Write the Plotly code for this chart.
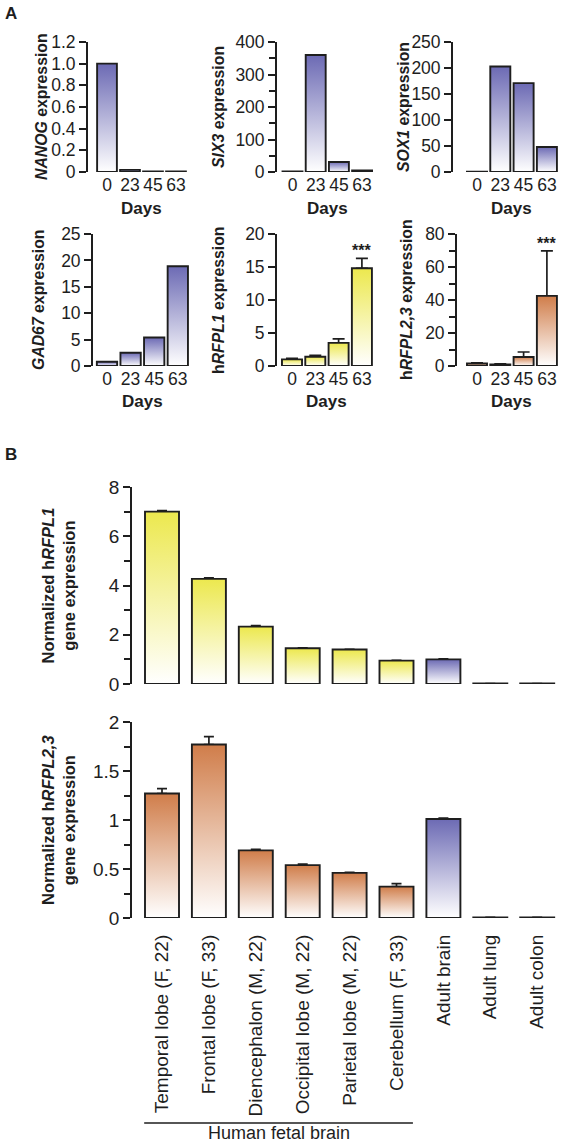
import plotly.graph_objects as go

# ---------------- data ----------------
days = ["0", "23", "45", "63"]

nanog = [1.0, 0.02, 0.005, 0.005]
six3 = [1.5, 360, 31, 5]
sox1 = [0.8, 203, 171, 48]
gad67 = [0.8, 2.5, 5.4, 18.9]
rfpl1_days = [1.0, 1.4, 3.5, 14.8]
rfpl1_days_err = [0.15, 0.2, 0.6, 1.5]
rfpl23_days = [1.5, 1.0, 5.5, 42.5]
rfpl23_days_err = [0.4, 0.3, 3.0, 27.3]

nanog_ticks = [0, 0.2, 0.4, 0.6, 0.8, 1.0, 1.2]
nanog_ticktext = ["0", "0.2", "0.4", "0.6", "0.8", "1.0", "1.2"]
six3_ticks = [0, 100, 200, 300, 400]
six3_minor = [50, 150, 250, 350]
sox1_ticks = [0, 50, 100, 150, 200, 250]
gad67_ticks = [0, 5, 10, 15, 20, 25]
rfpl1_days_ticks = [0, 5, 10, 15, 20]
rfpl23_days_ticks = [0, 20, 40, 60, 80]
rfpl23_days_minor = [10, 30, 50, 70]

tissues = ["Temporal lobe (F, 22)", "Frontal lobe (F, 33)", "Diencephalon (M, 22)",
           "Occipital lobe (M, 22)", "Parietal lobe (M, 22)", "Cerebellum (F, 33)",
           "Adult brain", "Adult lung", "Adult colon"]
rfpl1_tissue = [7.0, 4.27, 2.33, 1.45, 1.4, 0.95, 1.0, 0.02, 0.02]
rfpl1_tissue_err = [0.04, 0.04, 0.04, 0.02, 0.01, 0.01, 0.02, 0.0, 0.0]
rfpl23_tissue = [1.27, 1.77, 0.69, 0.54, 0.46, 0.32, 1.01, 0.006, 0.006]
rfpl23_tissue_err = [0.05, 0.08, 0.01, 0.01, 0.005, 0.03, 0.01, 0.0, 0.0]

rfpl1_tissue_ticks = [0, 2, 4, 6, 8]
rfpl1_tissue_minor = [1, 3, 5, 7]
rfpl23_tissue_ticks = [0, 0.5, 1, 1.5, 2]
rfpl23_tissue_ticktext = ["0", "0.5", "1", "1.5", "2"]
rfpl23_tissue_minor = [0.25, 0.75, 1.25, 1.75]

# ---------------- style ----------------
W, H = 562, 1145
FONT = "Liberation Sans, Arial, sans-serif"
INK = "#1e1e1e"
PURPLE = "#6c6ab4"
YELLOW = "#ece84e"
ORANGE = "#d07d4a"


def px_x(p):
    return p / W


def px_y(p):
    return 1 - p / H


fig = go.Figure()
layout = dict(width=W, height=H, autosize=False, margin=dict(l=0, r=0, t=0, b=0, pad=0),
              paper_bgcolor="white", plot_bgcolor="white", showlegend=False,
              font=dict(family=FONT, color=INK))
annotations = []
shapes = []


def add_panel(idx, cats, vals, colors, err, ytitle, ytickvals, yticktext, yminor,
              axis_px, c0_px, unit_px, top_px, zero_px, bar_w, right_units,
              tickfont, title_x_px, title_size, show_xlabels=True, xangle=0,
              xtickfont=None, xstandoff=None, xlabel_text=None, xlabel_y_px=None,
              stars=None):
    xa = "xaxis" if idx == 1 else f"xaxis{idx}"
    ya = "yaxis" if idx == 1 else f"yaxis{idx}"
    xr = "x" if idx == 1 else f"x{idx}"
    yr = "y" if idx == 1 else f"y{idx}"
    left_units = -(c0_px - axis_px) / unit_px
    end_px = c0_px + right_units * unit_px
    n = len(vals)
    xs = list(range(n))
    # gradient-filled outlined bars
    for i in xs:
        v = vals[i]
        x0, x1 = i - bar_w / 2, i + bar_w / 2
        fig.add_trace(go.Scatter(
            x=[x0, x0, x1, x1, x0], y=[0, v, v, 0, 0], xaxis=xr, yaxis=yr,
            mode="lines", fill="toself",
            fillgradient=dict(type="vertical",
                              colorscale=[[0, "#ffffff"], [1, colors[i]]]),
            line=dict(color=INK, width=1.9), hoverinfo="skip", cliponaxis=False))
    # data-bearing bar trace carrying the error bars
    bar_kw = dict(x=xs, y=vals, width=bar_w, xaxis=xr, yaxis=yr,
                  marker=dict(color="rgba(0,0,0,0)", line=dict(width=0)),
                  cliponaxis=False, hovertext=cats)
    if err is not None:
        bar_kw["error_y"] = dict(type="data", array=err, arrayminus=[0] * n,
                                 symmetric=False, color=INK, thickness=1.7,
                                 width=6 if n == 4 else 5)
    fig.add_trace(go.Bar(**bar_kw))
    xd = dict(domain=[px_x(axis_px), px_x(end_px)], anchor=yr,
              range=[left_units, right_units], showline=False,
              showgrid=False, zeroline=False, ticks="", automargin=False,
              tickmode="array", tickvals=xs, ticktext=cats,
              showticklabels=show_xlabels, tickangle=xangle,
              tickfont=dict(size=xtickfont or tickfont, family=FONT, color=INK))
    if xstandoff is not None:
        xd["ticklabelstandoff"] = xstandoff
    layout[xa] = xd
    yd = dict(domain=[px_y(zero_px), px_y(top_px)], anchor=xr, automargin=False,
              range=[0, ytickvals[-1]], showline=True, linecolor=INK,
              linewidth=1.8, showgrid=False, zeroline=False, ticks="outside",
              ticklen=7, tickwidth=1.8, tickcolor=INK, tickmode="array",
              tickvals=ytickvals, ticktext=yticktext,
              tickfont=dict(size=tickfont, family=FONT, color=INK))
    if yminor:
        yd["minor"] = dict(tickmode="array", tickvals=yminor, ticks="outside",
                           ticklen=6, tickwidth=1.8, tickcolor=INK, showgrid=False)
    layout[ya] = yd
    annotations.append(dict(text=ytitle, textangle=-90, xref="paper", yref="paper",
                            x=px_x(title_x_px), y=px_y((top_px + zero_px) / 2),
                            xanchor="center", yanchor="middle", showarrow=False,
                            font=dict(size=title_size, family=FONT, color=INK)))
    if xlabel_text:
        annotations.append(dict(text=xlabel_text, xref=xr, yref="paper",
                                x=(n - 1) / 2, y=px_y(xlabel_y_px),
                                xanchor="center", yanchor="middle", showarrow=False,
                                font=dict(size=17, family=FONT, color=INK)))
    if stars:
        i = n - 1
        annotations.append(dict(text="<b>***</b>", xref=xr, yref=yr, x=i,
                                y=vals[i] + err[i], xanchor="center",
                                yanchor="bottom", showarrow=False, yshift=-3,
                                font=dict(size=16, family=FONT, color=INK)))


def ints(t):
    return [str(v) for v in t]


BW_A = 0.86
TA = 17.5
TT = 15.8
# Panel A, row 1
add_panel(1, days, nanog, [PURPLE] * 4, None,
          "<b><i>NANOG</i> expression</b>", nanog_ticks, nanog_ticktext, None,
          88, 107, 23.0, 42, 172, BW_A, 3.5, TA, 41, TT,
          xlabel_text="<b>Days</b>", xlabel_y_px=208)
add_panel(2, days, six3, [PURPLE] * 4, None,
          "<b><i>SIX3</i> expression</b>", six3_ticks, ints(six3_ticks), six3_minor,
          277, 292.5, 23.2, 42, 172, BW_A, 3.5, TA, 218, TT,
          xlabel_text="<b>Days</b>", xlabel_y_px=208)
add_panel(3, days, sox1, [PURPLE] * 4, None,
          "<b><i>SOX1</i> expression</b>", sox1_ticks, ints(sox1_ticks), None,
          453, 477, 23.3, 42, 172, BW_A, 3.5, TA, 403, TT,
          xlabel_text="<b>Days</b>", xlabel_y_px=208)
# Panel A, row 2
add_panel(4, days, gad67, [PURPLE] * 4, None,
          "<b><i>GAD67</i> expression</b>", gad67_ticks, ints(gad67_ticks), None,
          93, 107, 23.6, 234, 366, BW_A, 3.5, TA, 39, TT,
          xlabel_text="<b>Days</b>", xlabel_y_px=401)
add_panel(5, days, rfpl1_days, [YELLOW] * 4, rfpl1_days_err,
          "<b>h<i>RFPL1</i> expression</b>", rfpl1_days_ticks, ints(rfpl1_days_ticks), None,
          277, 292, 23.3, 234, 366, BW_A, 3.5, TA, 219, TT,
          xlabel_text="<b>Days</b>", xlabel_y_px=401, stars=True)
add_panel(6, days, rfpl23_days, [ORANGE] * 4, rfpl23_days_err,
          "<b>h<i>RFPL2,3</i> expression</b>", rfpl23_days_ticks, ints(rfpl23_days_ticks),
          rfpl23_days_minor,
          457, 477, 23.3, 234, 366, BW_A, 3.5, TA, 407, TT,
          xlabel_text="<b>Days</b>", xlabel_y_px=401, stars=True)

# Panel B
BW_B = 0.725
colors_top = [YELLOW] * 6 + [PURPLE] + [YELLOW] * 2
colors_bot = [ORANGE] * 6 + [PURPLE] + [ORANGE] * 2
add_panel(7, tissues, rfpl1_tissue, colors_top, rfpl1_tissue_err,
          "<b>Normalized h<i>RFPL1</i></b><br><b>gene expression</b>",
          rfpl1_tissue_ticks, ints(rfpl1_tissue_ticks), rfpl1_tissue_minor,
          132, 162, 46.9, 487, 684, BW_B, 8.4, 19, 58, 16.5, show_xlabels=False)
add_panel(8, tissues, rfpl23_tissue, colors_bot, rfpl23_tissue_err,
          "<b>Normalized h<i>RFPL2,3</i></b><br><b>gene expression</b>",
          rfpl23_tissue_ticks, rfpl23_tissue_ticktext, rfpl23_tissue_minor,
          132, 162, 46.9, 722, 918, BW_B, 8.4, 19, 58, 16.5, show_xlabels=True,
          xangle=-90, xtickfont=19, xstandoff=12)

# fetal brain bracket
shapes.append(dict(type="line", xref="x8", yref="paper", x0=-0.38, x1=5.35,
                   y0=px_y(1123), y1=px_y(1123), line=dict(color=INK, width=1.5)))
annotations.append(dict(text="Human fetal brain", xref="x8", yref="paper",
                        x=(-0.38 + 5.35) / 2, y=px_y(1145), xanchor="center",
                        yanchor="bottom", showarrow=False,
                        font=dict(size=18, family=FONT, color=INK)))

# panel letters
annotations.append(dict(text="<b>A</b>", xref="paper", yref="paper", x=px_x(3),
                        y=px_y(14), xanchor="left", yanchor="middle",
                        showarrow=False, font=dict(size=17, family=FONT, color=INK)))
annotations.append(dict(text="<b>B</b>", xref="paper", yref="paper", x=px_x(3),
                        y=px_y(454), xanchor="left", yanchor="middle",
                        showarrow=False, font=dict(size=17, family=FONT, color=INK)))

layout["annotations"] = annotations
layout["shapes"] = shapes
fig.update_layout(**layout)
fig.write_html("out.html", config={"displayModeBar": False},
               post_script="document.body.style.margin='0';"
                           "document.body.style.overflow='hidden';")
